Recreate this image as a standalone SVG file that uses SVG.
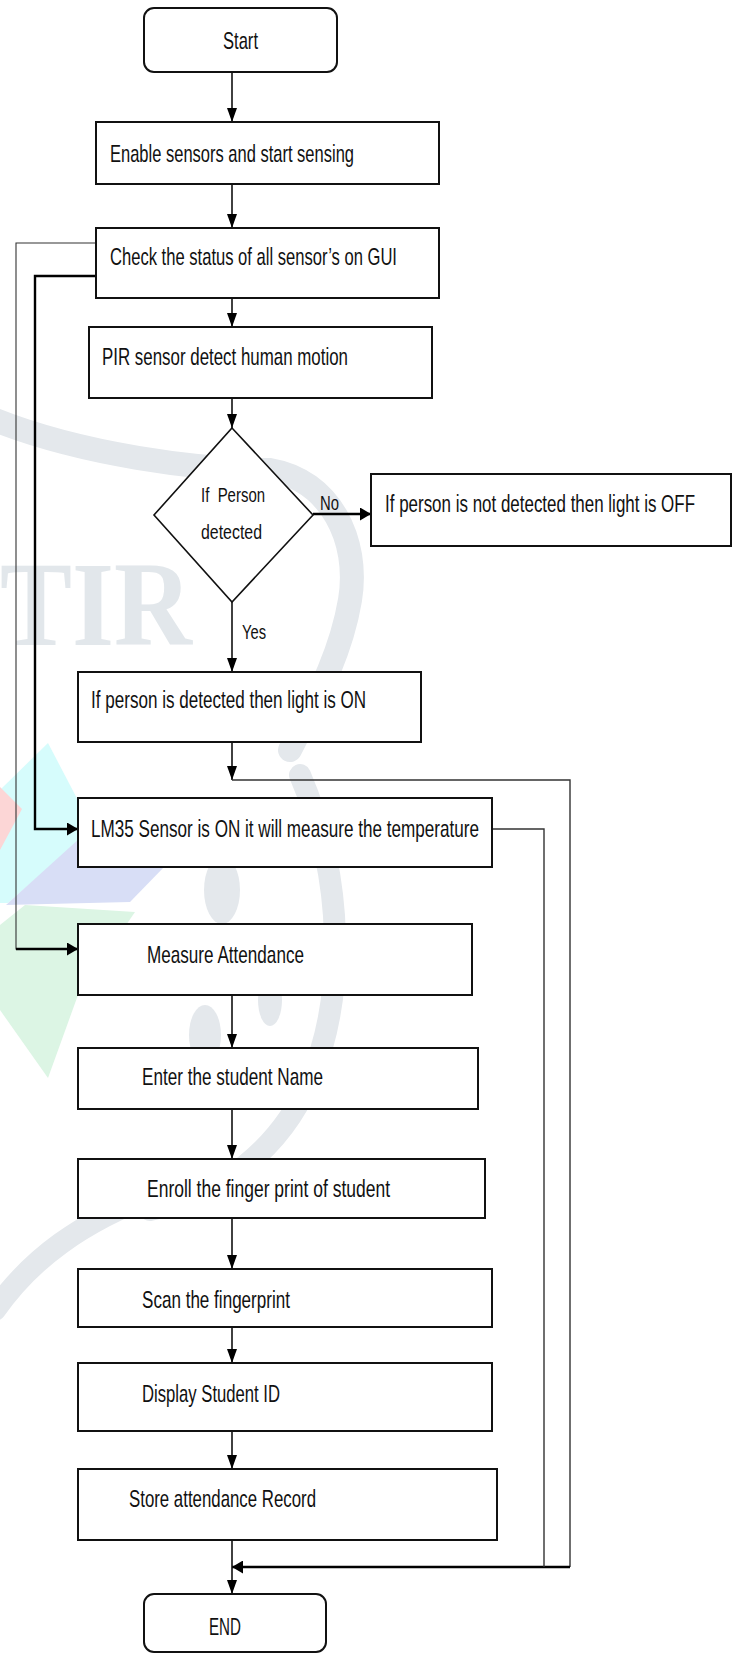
<svg xmlns="http://www.w3.org/2000/svg" width="738" height="1654" viewBox="0 0 738 1654">
<style>
.box{fill:#fff;stroke:#111;stroke-width:2}
.t{font-family:"Liberation Sans",Arial,sans-serif;font-size:24px;fill:#111}
.ts{font-family:"Liberation Sans",Arial,sans-serif;font-size:21px;fill:#111}
.c{fill:none;stroke:#111;stroke-width:1.6}
.cb{fill:none;stroke:#000;stroke-width:2.4}
.cg{fill:none;stroke:#333;stroke-width:1.4}
.cthin{fill:none;stroke:#333;stroke-width:1.1}
.wm{fill:none;stroke:#e4e8ec;stroke-linecap:round}
</style>
<defs>
<marker id="arr" viewBox="0 0 14 10" refX="14" refY="5" markerWidth="14" markerHeight="10" markerUnits="userSpaceOnUse" orient="auto">
<path d="M0,0 L14,5 L0,10 z" fill="#000"/>
</marker>
<marker id="arrB" viewBox="0 0 11 13" refX="11" refY="6.5" markerWidth="11" markerHeight="13" markerUnits="userSpaceOnUse" orient="auto">
<path d="M0,0 L11,6.5 L0,13 z" fill="#000"/>
</marker>
</defs>
<rect x="0" y="0" width="738" height="1654" fill="#fff"/>
<g id="watermark">
<polygon points="48,743 82,808 80,840 8,903 0,903 0,790" fill="#d6fcfc"/>
<polygon points="0,787 22,809 0,850" fill="#fcd6d6"/>
<polygon points="6,905 80,838 165,866 130,902" fill="#d8def6"/>
<polygon points="0,925 25,905 135,912 78,995 48,1078 0,1010" fill="#dcf5e4"/>
<path class="wm" stroke-width="24" d="M-10 418 C80 455 200 470 270 470 C330 480 360 540 350 600 C340 660 310 710 290 750"/>
<path class="wm" stroke-width="22" d="M300 775 C345 880 345 1000 310 1080 C280 1150 220 1195 150 1210"/>
<path class="wm" stroke-width="22" d="M-5 1310 C30 1260 80 1222 160 1192"/>
<ellipse cx="222" cy="890" rx="18" ry="34" fill="#e4e8ec"/>
<ellipse cx="205" cy="1035" rx="16" ry="30" fill="#e4e8ec"/>
<ellipse cx="270" cy="1000" rx="12" ry="26" fill="#e4e8ec"/>
<text x="0" y="645" font-family="Liberation Serif,serif" font-weight="bold" font-size="120" fill="#e2e7eb" textLength="192" lengthAdjust="spacingAndGlyphs">TIR</text>
</g>
<g id="connectors">
<path class="c" d="M232 72 V122" marker-end="url(#arr)"/>
<path class="c" d="M232 184 V228" marker-end="url(#arr)"/>
<path class="c" d="M232 298 V327" marker-end="url(#arr)"/>
<path class="c" d="M232 398 V428" marker-end="url(#arr)"/>
<path class="cb" d="M313 514 H371" marker-end="url(#arrB)"/>
<path class="c" d="M232 602 V672" marker-end="url(#arr)"/>
<path class="c" d="M232 742 V780" marker-end="url(#arr)"/>
<path class="cg" d="M232 780 H570 V1567"/>
<path class="cb" d="M570 1567 H232" marker-end="url(#arrB)"/>
<path class="cg" d="M492 829 H544 V1567"/>
<path class="cb" d="M96 276 H35 V829 H78" marker-end="url(#arrB)"/>
<path class="cthin" d="M96 243 H16 V949 H70"/>
<path class="cb" d="M16 949 H78" marker-end="url(#arrB)"/>
<path class="c" d="M232 995 V1048" marker-end="url(#arr)"/>
<path class="c" d="M232 1109 V1159" marker-end="url(#arr)"/>
<path class="c" d="M232 1218 V1269" marker-end="url(#arr)"/>
<path class="c" d="M232 1327 V1363" marker-end="url(#arr)"/>
<path class="c" d="M232 1431 V1469" marker-end="url(#arr)"/>
<path class="c" d="M232 1540 V1594" marker-end="url(#arr)"/>
</g>
<g id="start">
<rect class="box" x="144" y="8" width="193" height="64" rx="10"/>
<text class="t" transform="translate(223 49) scale(0.69 1)" textLength="50.7" lengthAdjust="spacingAndGlyphs">Start</text>
</g>
<g id="enable">
<rect class="box" x="96" y="122" width="343" height="62"/>
<text class="t" transform="translate(110 162) scale(0.69 1)" textLength="353.6" lengthAdjust="spacingAndGlyphs">Enable sensors and start sensing</text>
</g>
<g id="check">
<rect class="box" x="96" y="228" width="343" height="70"/>
<text class="t" transform="translate(110 265) scale(0.69 1)" textLength="415.9" lengthAdjust="spacingAndGlyphs">Check the status of all sensor’s on GUI</text>
</g>
<g id="pir">
<rect class="box" x="89" y="327" width="343" height="71"/>
<text class="t" transform="translate(102 365) scale(0.69 1)" textLength="356.5" lengthAdjust="spacingAndGlyphs">PIR sensor detect human motion</text>
</g>
<g id="decision">
<polygon points="232,428 313,515 232,602 154,515" fill="#fff" stroke="#111" stroke-width="1.6"/>
<text class="ts" transform="translate(201 502) scale(0.69 1)" textLength="92.8" lengthAdjust="spacingAndGlyphs" xml:space="preserve">If  Person</text>
<text class="ts" transform="translate(201 539) scale(0.69 1)" textLength="88.4" lengthAdjust="spacingAndGlyphs">detected</text>
</g>
<g id="labels">
<text class="ts" transform="translate(320 510) scale(0.69 1)" textLength="27.5" lengthAdjust="spacingAndGlyphs">No</text>
<text class="ts" transform="translate(242 639) scale(0.69 1)" textLength="34.8" lengthAdjust="spacingAndGlyphs">Yes</text>
</g>
<g id="lightoff">
<rect class="box" x="371" y="474" width="360" height="72"/>
<text class="t" transform="translate(385 512) scale(0.69 1)" textLength="449.3" lengthAdjust="spacingAndGlyphs">If person is not detected then light is OFF</text>
</g>
<g id="lighton">
<rect class="box" x="78" y="672" width="343" height="70"/>
<text class="t" transform="translate(91 708) scale(0.69 1)" textLength="398.6" lengthAdjust="spacingAndGlyphs">If person is detected then light is ON</text>
</g>
<g id="lm35">
<rect class="box" x="78" y="798" width="414" height="69"/>
<text class="t" transform="translate(91 837) scale(0.69 1)" textLength="562.3" lengthAdjust="spacingAndGlyphs">LM35 Sensor is ON it will measure the temperature</text>
</g>
<g id="measure">
<rect class="box" x="78" y="924" width="394" height="71"/>
<text class="t" transform="translate(147 963) scale(0.69 1)" textLength="227.5" lengthAdjust="spacingAndGlyphs">Measure Attendance</text>
</g>
<g id="enter">
<rect class="box" x="78" y="1048" width="400" height="61"/>
<text class="t" transform="translate(142 1085) scale(0.69 1)" textLength="262.3" lengthAdjust="spacingAndGlyphs">Enter the student Name</text>
</g>
<g id="enroll">
<rect class="box" x="78" y="1159" width="407" height="59"/>
<text class="t" transform="translate(147 1197) scale(0.69 1)" textLength="352.2" lengthAdjust="spacingAndGlyphs">Enroll the finger print of student</text>
</g>
<g id="scan">
<rect class="box" x="78" y="1269" width="414" height="58"/>
<text class="t" transform="translate(142 1308) scale(0.69 1)" textLength="214.5" lengthAdjust="spacingAndGlyphs">Scan the fingerprint</text>
</g>
<g id="display">
<rect class="box" x="78" y="1363" width="414" height="68"/>
<text class="t" transform="translate(142 1402) scale(0.69 1)" textLength="200" lengthAdjust="spacingAndGlyphs">Display Student ID</text>
</g>
<g id="store">
<rect class="box" x="78" y="1469" width="419" height="71"/>
<text class="t" transform="translate(129 1507) scale(0.69 1)" textLength="271" lengthAdjust="spacingAndGlyphs">Store attendance Record</text>
</g>
<g id="end">
<rect class="box" x="144" y="1594" width="182" height="58" rx="10"/>
<text class="t" transform="translate(209 1635) scale(0.69 1)" textLength="46.4" lengthAdjust="spacingAndGlyphs">END</text>
</g>
</svg>
